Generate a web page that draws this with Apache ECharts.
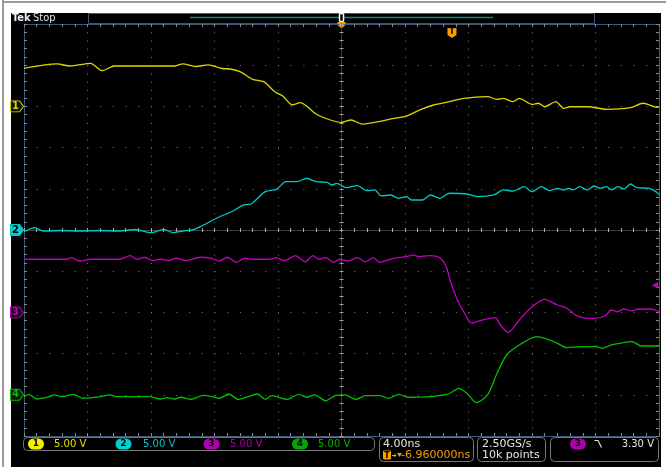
<!DOCTYPE html>
<html>
<head>
<meta charset="utf-8">
<script src="https://cdn.jsdelivr.net/npm/echarts@6/dist/echarts.min.js"></script>
<style>
html, body { margin: 0; padding: 0; background: #fff; }
#main { width: 666px; height: 467px; }
</style>
</head>
<body>
<div id="main"></div>
<script>
// time in ns (4.00 ns/div), each channel in volts (5.00 V/div)
const ch1T = [-20, -17.9, -17.1, -15.8, -15.1, -14.3, -12.1, -10.5, -10.0, -9.2, -8.4, -7.5, -7.0, -6.4, -5.6, -4.9, -4.2, -3.7, -3.1, -2.6, -2.2, -1.6, -0.7, 0.0, 0.6, 1.3, 2.2, 3.2, 4.1, 4.9, 5.8, 6.8, 7.7, 9.2, 9.8, 10.2, 10.8, 11.2, 12.0, 12.4, 12.8, 13.5, 14.0, 14.4, 15.5, 16.7, 18.2, 19.0, 19.9, 20]
const ch1V = [4.62, 5.15, 4.90, 5.23, 4.33, 4.90, 4.90, 4.90, 5.15, 4.84, 5.03, 4.60, 4.54, 4.21, 3.29, 3.00, 1.78, 1.26, 0.17, 0.45, 0.05, -0.92, -1.65, -1.93, -1.65, -2.14, -1.89, -1.49, -1.17, -0.44, 0.17, 0.57, 0.98, 1.18, 0.86, 0.98, 0.57, 0.98, 0.25, 0.38, -0.04, 0.57, -0.23, -0.04, -0.04, -0.35, -0.16, 0.38, -0.11, 0.0]

const ch2T = [-20, -19.3, -18.8, -17.7, -16.5, -15.2, -14.0, -13.0, -12.0, -11.2, -10.6, -10.0, -9.4, -8.9, -8.1, -7.7, -6.8, -6.2, -5.7, -4.8, -4.1, -3.5, -2.8, -2.2, -1.6, -0.9, -0.6, -0.3, 0.3, 1.0, 1.6, 2.1, 2.5, 3.1, 3.6, 4.1, 4.4, 5.1, 5.6, 6.2, 6.8, 7.9, 8.6, 9.6, 10.2, 10.8, 11.5, 12.0, 12.6, 13.1, 13.6, 14.0, 14.3, 14.6, 15.0, 15.5, 15.9, 16.3, 16.7, 17.0, 17.4, 17.8, 18.2, 18.6, 19.4, 19.9, 20]
const ch2V = [-0.21, 0.28, -0.12, -0.06, -0.12, -0.06, -0.12, 0.06, -0.33, 0.08, -0.33, -0.12, 0, 0.40, 1.21, 1.58, 2.34, 3.03, 3.16, 4.65, 4.94, 5.86, 5.86, 6.28, 5.86, 5.79, 5.46, 5.67, 5.14, 5.38, 4.77, 4.86, 4.13, 4.25, 3.85, 4.04, 3.64, 3.64, 4.25, 3.85, 4.46, 4.37, 4.04, 4.25, 4.86, 4.73, 5.26, 4.65, 5.26, 4.77, 5.06, 4.86, 5.06, 4.86, 5.26, 4.86, 5.34, 5.06, 5.26, 4.86, 5.26, 4.98, 5.58, 5.14, 5.06, 4.53, 4.3]

const ch3T = [-20, -17.3, -17.0, -16.5, -15.8, -14.0, -13.3, -12.9, -12.4, -11.9, -11.4, -10.9, -10.4, -9.8, -8.9, -8.2, -7.7, -7.2, -6.6, -6.1, -5.6, -4.5, -4.1, -3.6, -2.9, -2.3, -1.8, -1.4, -1.0, -0.5, -0.1, 0.4, 1.0, 1.5, 2.0, 2.4, 3.3, 4.1, 4.5, 4.9, 5.5, 6.0, 6.3, 6.6, 6.9, 7.3, 7.7, 8.2, 8.7, 9.7, 10.0, 10.5, 11.2, 12.0, 12.8, 13.6, 14.2, 14.8, 15.5, 15.9, 16.6, 17.0, 17.4, 17.8, 18.3, 18.6, 19.5, 19.9, 20]
const ch3V = [6.45, 6.45, 6.64, 6.24, 6.45, 6.45, 6.88, 6.45, 6.69, 6.28, 6.45, 6.28, 6.57, 6.28, 6.69, 6.57, 6.24, 6.69, 6.08, 6.57, 6.45, 6.45, 6.64, 6.28, 6.88, 6.15, 6.88, 6.45, 6.64, 6.08, 6.45, 6.24, 6.64, 6.15, 6.64, 6.08, 6.57, 6.76, 6.97, 6.76, 6.88, 6.79, 6.45, 5.55, 3.53, 1.51, 0.08, -1.32, -1.01, -0.64, -1.53, -2.42, -0.92, 0.69, 1.59, 0.90, 0.50, -0.40, -0.72, -0.72, -0.44, 0.29, 0.08, 0.41, 0.17, 0.38, 0.41, 0.17, 0.1]

const ch4T = [-20, -19.7, -19.2, -18.4, -18.1, -17.6, -16.9, -16.3, -15.2, -14.6, -14.1, -12.1, -11.4, -11.0, -10.5, -10.1, -9.5, -8.7, -8.1, -7.7, -7.1, -6.5, -5.9, -5.3, -4.8, -4.4, -3.4, -2.7, -2.2, -1.7, -1.0, -0.4, 0.2, 0.9, 1.5, 2.4, 3.0, 3.6, 4.2, 5.6, 6.4, 6.8, 7.4, 7.9, 8.5, 9.2, 9.8, 10.4, 11.2, 12.3, 13.0, 13.6, 14.2, 15.0, 16.1, 16.4, 17.0, 17.5, 18.3, 18.9, 19.9, 20]
const ch4V = [-0.23, 0.06, -0.51, -0.23, -0.02, -0.23, 0.06, -0.42, -0.23, -0.02, -0.23, -0.23, -0.51, -0.35, -0.51, -0.30, -0.55, -0.06, -0.23, -0.42, 0.10, -0.55, -0.23, 0.10, -0.55, -0.11, -0.55, 0.06, -0.30, -0.02, -0.72, -0.11, -0.02, -0.55, -0.11, -0.11, -0.42, 0.06, -0.30, -0.23, -0.02, 0.16, 0.79, 0.18, -0.96, -0.02, 2.61, 4.83, 6.05, 7.05, 6.74, 6.25, 5.72, 5.84, 5.84, 5.65, 6.05, 6.25, 6.45, 5.92, 5.92, 5.9]

// channel settings
const chNames = ['1', '2', '3', '4']
const chOffsets = [3, 0, -2, -4] // position in divisions
const voltsPerDiv = 5
const chScaleText = ['5.00 V', '5.00 V', '5.00 V', '5.00 V']
const trigLevel = 3.30 // volts on ch3
const trigDelay = 6.96 // ns
const timeText = '4.00ns'
const delayText = '-6.960000ns'
const rateText = ['2.50GS/s', '10k points']

const traceColors = ['#d8d800', '#00c8c8', '#c000c0', '#00c000']
const badgeColors = ['#f0f000', '#00d0d0', '#b000b0', '#00a800']
const textColors = ['#e0e000', '#00c4c4', '#a800a8', '#00b000']
const FRAME = '#3e5a78'
const TICK = '#8a8a8a'
const DOT = '#7a7a7a'
const ORANGE = '#f5a000'

const traces = [[ch1T, ch1V], [ch2T, ch2V], [ch3T, ch3V], [ch4T, ch4V]]

function edgeAxis (position, min, max, interval, withGrid, dots) {
  return {
    type: 'value',
    min: min,
    max: max,
    interval: interval,
    position: position,
    axisLine: { show: true, onZero: false, lineStyle: { color: FRAME, width: 1 } },
    axisTick: { show: true, inside: true, length: 3, lineStyle: { color: TICK } },
    minorTick: { show: true, splitNumber: 5, length: 3, lineStyle: { color: TICK } },
    axisLabel: { show: false },
    splitLine: { show: withGrid, lineStyle: { color: DOT, width: 1, type: dots } },
    minorSplitLine: { show: false }
  }
}

function centerAxis (position, min, max, interval, inside) {
  return {
    type: 'value',
    min: min,
    max: max,
    interval: interval,
    position: position,
    axisLine: { show: true, onZero: true, lineStyle: { color: '#555', width: 1, type: [1, 2] } },
    axisTick: { show: true, inside: inside, length: 2, lineStyle: { color: '#aaa' } },
    minorTick: { show: true, splitNumber: 5, length: 2, lineStyle: { color: '#aaa' } },
    axisLabel: { show: false },
    splitLine: { show: false }
  }
}

const flagPath = 'path://M0,0L9,0L13,5.5L9,11L0,11Z'

const series = traces.map(function (tr, i) {
  const data = tr[0].map(function (t, k) {
    return [t, chOffsets[i] + tr[1][k] / voltsPerDiv]
  })
  const marks = [{
    name: chNames[i],
    coord: [-20, chOffsets[i]],
    symbol: flagPath,
    symbolSize: [13, 11],
    symbolOffset: [-7, 0],
    itemStyle: {
      color: i === 1 ? badgeColors[i] : '#101010',
      borderColor: traceColors[i],
      borderWidth: 1
    },
    label: {
      show: true,
      formatter: '{b}',
      offset: [-1.5, 0],
      color: i === 1 ? '#000' : traceColors[i],
      fontSize: 10,
      fontWeight: 'bold',
      fontFamily: 'DejaVu Sans'
    }
  }]
  if (i === 2) {
    // trigger level marker on the right edge
    marks.push({
      name: 'lvl',
      coord: [20, chOffsets[i] + trigLevel / voltsPerDiv],
      symbol: 'triangle',
      symbolRotate: 90,
      symbolSize: [7, 6],
      symbolOffset: [-4, 0],
      itemStyle: { color: traceColors[i] },
      label: { show: false }
    })
    // trigger time marker at the top
    marks.push({
      name: 'T',
      coord: [trigDelay, 5],
      symbol: 'path://M0,0L10,0L10,7L5,10L0,7Z',
      symbolSize: [9, 10],
      symbolOffset: [0, 9],
      itemStyle: { color: ORANGE },
      label: {
        show: true,
        formatter: 'T',
        color: '#000',
        fontSize: 8,
        fontWeight: 'bold',
        fontFamily: 'DejaVu Sans',
        offset: [0, -1]
      }
    })
  }
  return {
    name: 'CH' + chNames[i],
    type: 'line',
    xAxisIndex: 0,
    yAxisIndex: 0,
    data: data,
    smooth: 0.25,
    showSymbol: false,
    lineStyle: { color: traceColors[i], width: 1.3 },
    itemStyle: { color: traceColors[i] },
    markPoint: { data: marks, animation: false }
  }
})

const txt = { fontFamily: 'DejaVu Sans', fontSize: 11, fill: '#e6e6e6', verticalAlign: 'middle' }

const graphic = [
  { type: 'rect', z: -10, shape: { x: 2, y: 0, width: 2, height: 467 }, style: { fill: '#9a9a9a' } },
  { type: 'rect', z: -10, shape: { x: 2, y: 1, width: 664, height: 2 }, style: { fill: '#9a9a9a' } },
  { type: 'rect', z: -10, shape: { x: 11, y: 13, width: 650, height: 454 }, style: { fill: '#000' } },
  // top bar
  { type: 'text', x: 12, y: 18, style: { text: 'Tek', fontFamily: 'DejaVu Sans Condensed', fontWeight: 'bold', fontSize: 11, fill: '#f0f0f0', verticalAlign: 'middle' } },
  { type: 'text', x: 33, y: 18, style: { text: 'Stop', fontFamily: 'DejaVu Sans Condensed', fontSize: 11, fill: '#e6e6e6', verticalAlign: 'middle' } },
  { type: 'rect', shape: { x: 88.5, y: 13.5, width: 506, height: 10 }, style: { fill: 'none', stroke: FRAME, lineWidth: 1 } },
  { type: 'line', shape: { x1: 190, y1: 17.5, x2: 493, y2: 17.5 }, style: { stroke: '#0b8a84', lineWidth: 1.5 } },
  { type: 'rect', shape: { x: 339.5, y: 13.5, width: 4, height: 8, r: 1 }, style: { fill: '#000', stroke: '#fff', lineWidth: 1.5 } },
  { type: 'polygon', shape: { points: [[337.5, 22], [345.5, 22], [345.5, 25], [341.5, 28.5], [337.5, 25]] }, style: { fill: ORANGE } },
  // bottom readouts
  { type: 'rect', shape: { x: 23.5, y: 437.5, width: 351, height: 13, r: 4 }, style: { fill: '#000', stroke: '#777', lineWidth: 1 } },
  { type: 'rect', shape: { x: 379.5, y: 437.5, width: 94, height: 24, r: 4 }, style: { fill: '#000', stroke: '#777', lineWidth: 1 } },
  { type: 'rect', shape: { x: 477.5, y: 437.5, width: 68, height: 24, r: 4 }, style: { fill: '#000', stroke: '#777', lineWidth: 1 } },
  { type: 'rect', shape: { x: 550.5, y: 437.5, width: 108, height: 24, r: 4 }, style: { fill: '#000', stroke: '#777', lineWidth: 1 } },
  { type: 'text', x: 383, y: 444, style: Object.assign({}, txt, { text: timeText }) },
  { type: 'rect', shape: { x: 383, y: 450.5, width: 8, height: 9, r: 1 }, style: { fill: ORANGE } },
  { type: 'text', x: 387, y: 455.5, style: { text: 'T', fontFamily: 'DejaVu Sans', fontWeight: 'bold', fontSize: 8, fill: '#000', align: 'center', verticalAlign: 'middle' } },
  { type: 'line', shape: { x1: 392, y1: 455.5, x2: 396, y2: 455.5 }, style: { stroke: ORANGE, lineWidth: 1 } },
  { type: 'polygon', shape: { points: [[394.5, 453.5], [396.5, 455.5], [394.5, 457.5]] }, style: { fill: ORANGE } },
  { type: 'polygon', shape: { points: [[397, 453], [402, 453], [399.5, 457]] }, style: { fill: ORANGE } },
  { type: 'text', x: 401, y: 455.5, style: Object.assign({}, txt, { text: delayText, fill: ORANGE }) },
  { type: 'text', x: 482, y: 444, style: Object.assign({}, txt, { text: rateText[0] }) },
  { type: 'text', x: 482, y: 455.5, style: Object.assign({}, txt, { text: rateText[1] }) },
  { type: 'rect', shape: { x: 570, y: 438.5, width: 16, height: 11, r: 5.5 }, style: { fill: badgeColors[2] } },
  { type: 'text', x: 578, y: 444, style: { text: '3', fontFamily: 'DejaVu Sans', fontWeight: 'bold', fontSize: 9, fill: '#000', align: 'center', verticalAlign: 'middle' } },
  { type: 'polyline', shape: { points: [[594.5, 440.5], [598, 440.5], [601.5, 447.5]] }, style: { stroke: '#e6e6e6', lineWidth: 1.2, fill: 'none' } },
  { type: 'text', x: 654, y: 444, style: Object.assign({}, txt, { text: trigLevel.toFixed(2) + ' V', fontSize: 10, align: 'right' }) }
]

// channel badges in the bottom box
const badgeX = [28, 115.5, 203.5, 292]
const textX = [54, 143, 230, 318]
chNames.forEach(function (n, i) {
  graphic.push({ type: 'rect', shape: { x: badgeX[i], y: 438.5, width: 16, height: 11, r: 5.5 }, style: { fill: badgeColors[i] } })
  graphic.push({ type: 'text', x: badgeX[i] + 8, y: 444, style: { text: n, fontFamily: 'DejaVu Sans', fontWeight: 'bold', fontSize: 9, fill: '#000', align: 'center', verticalAlign: 'middle' } })
  graphic.push({ type: 'text', x: textX[i], y: 444, style: Object.assign({}, txt, { text: chScaleText[i], fontSize: 10, fill: textColors[i] }) })
})

const option = {
  backgroundColor: '#fff',
  animation: false,
  grid: { left: 24, top: 24, width: 635, height: 412, show: false },
  xAxis: [
    edgeAxis('bottom', -20, 20, 4, true, [1, 7.24]),
    edgeAxis('top', -20, 20, 4, false, 'solid'),
    centerAxis('bottom', -20, 20, 4, true),
    centerAxis('bottom', -20, 20, 4, false)
  ],
  yAxis: [
    edgeAxis('left', -5, 5, 1, true, [1, 11.7]),
    edgeAxis('right', -5, 5, 1, false, 'solid'),
    centerAxis('left', -5, 5, 1, true),
    centerAxis('left', -5, 5, 1, false)
  ],
  series: series,
  graphic: graphic
}

const myChart = echarts.init(document.getElementById('main'))
myChart.setOption(option)
</script>
</body>
</html>
